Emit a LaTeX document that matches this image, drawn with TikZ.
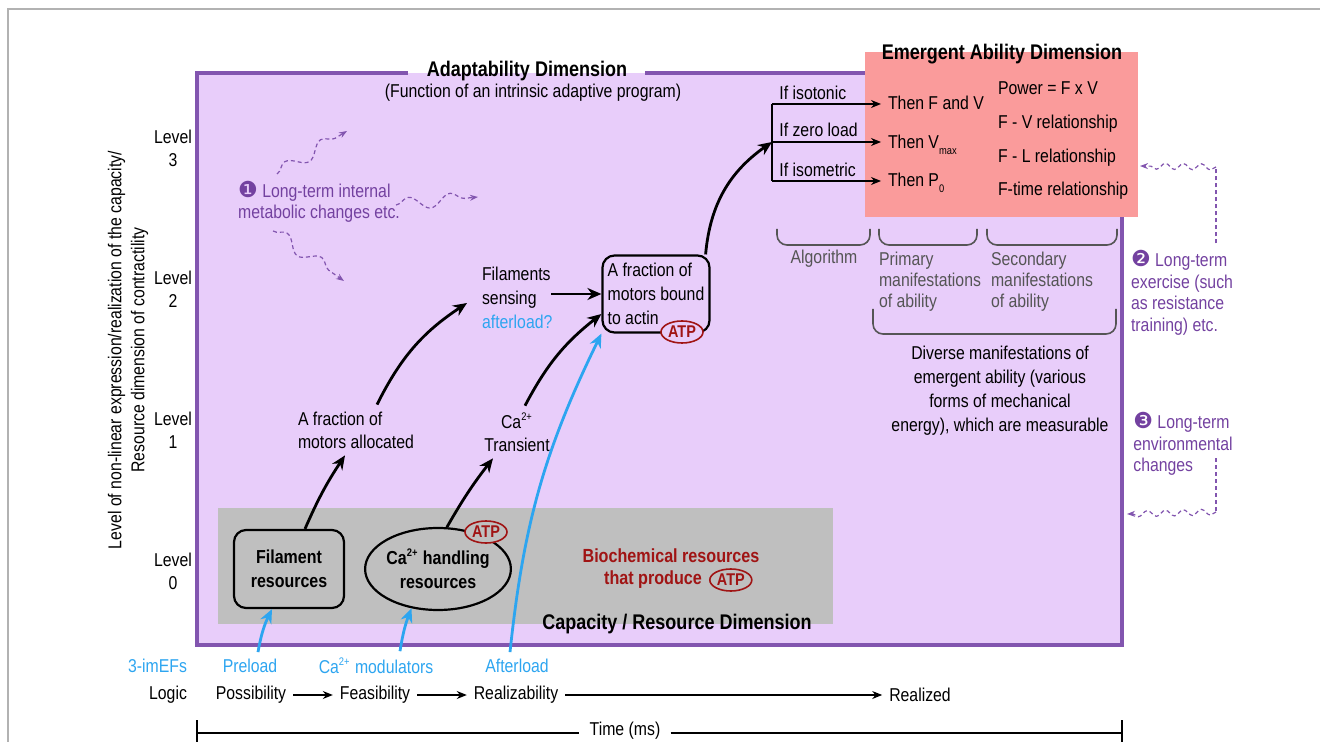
\documentclass[tikz,border=0pt]{standalone}
\usepackage{fontspec}
\setmainfont{Liberation Sans}[FakeStretch=0.85]
\newfontfamily\dingfont{DejaVu Sans}
\usepackage{tikz}
\usetikzlibrary{positioning}
\usetikzlibrary{arrows.meta}
\usetikzlibrary{shapes.geometric}
\usetikzlibrary{decorations.pathmorphing}

\definecolor{adaptfill}{RGB}{232,205,250}
\definecolor{adaptline}{RGB}{130,85,175}
\definecolor{adapttext}{RGB}{115,65,160}
\definecolor{capfill}{RGB}{191,191,191}
\definecolor{abilfill}{RGB}{250,155,155}
\definecolor{atpred}{RGB}{160,20,20}
\definecolor{loadblue}{RGB}{45,165,240}
\definecolor{bracegray}{RGB}{85,85,85}

\newcommand{\caion}{Ca\textsuperscript{\fontsize{5.5}{6}\selectfont 2+}}
\newcommand{\lowsub}[1]{\raisebox{-3pt}{\fontsize{5.5}{6}\selectfont #1}}
\newcommand{\numdot}[1]{{\dingfont\fontsize{11}{10}\selectfont #1}}

\tikzset{
  mainarrow/.style={line width=1.4pt, -{Stealth[length=7pt,width=6pt]}},
  loadarrow/.style={loadblue, line width=1.4pt, -{Stealth[length=7pt,width=6pt]}},
  thinarrow/.style={line width=0.7pt, -{Stealth[length=5pt,width=4pt]}},
  logicarrow/.style={line width=0.6pt, -{Stealth[length=5pt,width=4pt]}},
  bigwavy/.style={adaptline, line width=0.6pt, dash pattern=on 2pt off 1.5pt, decorate,
    decoration={snake, amplitude=3.2pt, segment length=21pt, post length=3pt},
    -{Stealth[length=4pt,width=3pt]}},
  smallwavy/.style={adaptline, line width=0.6pt, dash pattern=on 2pt off 1.5pt, decorate,
    decoration={snake, amplitude=1.5pt, segment length=9pt, post length=2pt},
    -{Stealth[length=4pt,width=3pt]}},
  dashlink/.style={adaptline, line width=0.6pt, dash pattern=on 2pt off 1.5pt},
  atp/.style={ellipse, draw=atpred, line width=0.8pt, text=atpred, inner sep=0pt,
    font=\fontsize{8.5}{10}\selectfont\bfseries, minimum width=21pt, minimum height=11pt},
  resbox/.style={draw, line width=1.1pt, rounded corners=6pt, fill=capfill, align=center,
    font=\fontsize{9.4}{12}\selectfont\bfseries},
  resoval/.style={ellipse, draw, line width=1.1pt, fill=capfill, align=center, inner sep=0pt,
    font=\fontsize{9.4}{12}\selectfont\bfseries},
  dimtitle/.style={font=\fontsize{10.6}{12}\selectfont\bfseries},
  biochem/.style={text=atpred, font=\fontsize{9.5}{12}\selectfont\bfseries},
  brace/.style={bracegray, line width=0.8pt, rounded corners=5pt},
  note/.style={text=adapttext, align=left, font=\fontsize{9.3}{10.8}\selectfont},
  manif/.style={text=bracegray, align=left, font=\fontsize{9.3}{10.5}\selectfont}
}

\begin{document}
\begin{tikzpicture}[x=0.5pt,y=-0.5pt,font=\fontsize{9.3}{11.5}\selectfont]
\useasboundingbox (0,0) rectangle (1320,742);
\draw[black!30, line width=0.8pt] (8,742) -- (8,9) -- (1320,9);

% adaptability dimension
\fill[adaptfill] (197,73) rectangle (1122,645);
\draw[adaptline, line width=2pt] (408,73) -- (197,73) -- (197,645) -- (1122,645) -- (1122,73) -- (645,73);
\node[dimtitle] (adapt) at (527,71) {Adaptability Dimension};
\node (adaptsub) at (533,93) {(Function of an intrinsic adaptive program)};

% capacity / resource dimension
\fill[capfill] (218,508) rectangle (833,624);
\node[dimtitle] (capacity) at (677,624) {Capacity / Resource Dimension};

% emergent ability dimension
\fill[abilfill] (865,52) rectangle (1138,217);
\node[dimtitle] (ability) at (1002,54) {Emergent Ability Dimension};

% levels
\foreach \lv/\y in {3/148,2/289,1/430,0/571}
  \node[align=center] (level\lv) at (173,\y) {Level\\\lv};
\node[rotate=90, align=center] (yaxis) at (128,350) {Level of non-linear expression/realization of the capacity/\\Resource dimension of contractility};

% resources
\node[resbox, minimum width=55pt, minimum height=39pt] (filres) at (289,569) {Filament\\resources};
\node[resoval, minimum width=65pt, minimum height=41pt] (cares) at (438,569) {\caion{} handling\\resources};
\node[atp, fill=capfill] (atpca) at (486,532) {ATP};
\node[biochem] (bio1) at (671,556) {Biochemical resources};
\node[biochem, anchor=east] (bio2) at (709,580) {that produce};
\node[atp, right=0pt of bio2] (atpbio) {ATP};

% intermediate steps
\node[align=left] (motalloc) at (356,430) {A fraction of\\motors allocated};
\node[align=center] (transient) at (517,432) {\caion\\Transient};
\node[align=left, anchor=west, font=\fontsize{9.3}{12}\selectfont] (sensing) at (475,298) {Filaments\\sensing\\\textcolor{loadblue}{afterload?}};
\node[draw, line width=1.1pt, rounded corners=6pt, align=left, inner sep=2pt,
  minimum width=53.5pt, minimum height=38.5pt, font=\fontsize{9.3}{12}\selectfont] (actin) at (656,294) {A fraction of\\motors bound\\to actin};
\node[atp, fill=adaptfill] (atpact) at (682,332) {ATP};

\draw[mainarrow] ([xshift=8pt]filres.north) to[bend left=5] ([xshift=-5.5pt]motalloc.south);
\draw[mainarrow] ([xshift=10.5pt]motalloc.north) to[bend left=15] ([shift={(-4pt,-2.5pt)}]sensing.west);
\draw[mainarrow] (cares.78) to[bend left=4] ([xshift=-12pt]transient.south);
\draw[mainarrow] ([xshift=4pt]transient.north) to[bend left=12] ([yshift=-10pt]actin.west);
\draw[mainarrow] ([xshift=-4pt]sensing.east |- actin.west) -- (actin.west);

% algorithm
\coordinate (b1) at (772,104);
\coordinate (b2) at (772,142);
\coordinate (b3) at (772,181);
\draw[mainarrow] ([xshift=-2.5pt]actin.north east) to[out=85,in=-145] (b2);
\draw[line width=0.7pt] (b1) -- (b3);
\node[anchor=base west, inner sep=0pt] (ifiso) at (779,100) {If isotonic};
\node[anchor=base west, inner sep=0pt] (ifzero) at (779,137) {If zero load};
\node[anchor=base west, inner sep=0pt] (ifisom) at (779,177) {If isometric};
\node[anchor=base west] (thenfv) at (881,110) {Then F and V};
\node[anchor=base west] (thenvmax) at (881,149) {Then V\lowsub{max}};
\node[anchor=base west] (thenpo) at (881,187) {Then P\lowsub{0}};
\draw[thinarrow] (b1) -- (b1 -| thenfv.west);
\draw[thinarrow] (b2) -- (b2 -| thenvmax.west);
\draw[thinarrow] (b3) -- (b3 -| thenpo.west);

\node[anchor=base west] (power) at (991,95) {Power = F x V};
\node[anchor=base west] (fvrel) at (991,129) {F - V relationship};
\node[anchor=base west] (flrel) at (991,163) {F - L relationship};
\node[anchor=base west] (ftrel) at (991,196) {F-time relationship};

% manifestations
\draw[brace] (777,229) -- (777,245) -- (870,245) -- (870,229);
\draw[brace] (879,229) -- (879,245) -- (977,245) -- (977,229);
\draw[brace] (987,229) -- (987,245) -- (1117,245) -- (1117,229);
\draw[brace] (873,309) -- (873,334) -- (1116,334) -- (1116,309);
\node[text=bracegray] (algo) at (824,259) {Algorithm};
\node[manif] (primary) at (930,282) {Primary\\manifestations\\of ability};
\node[manif] (secondary) at (1042,282) {Secondary\\manifestations\\of ability};
\node[align=center, font=\fontsize{9.3}{12}\selectfont] (diverse) at (1000,391) {Diverse manifestations of\\emergent ability (various\\forms of mechanical\\energy), which are measurable};

% long-term changes
\node[note] (internal) at (319,202) {\numdot{❶} Long-term internal\\metabolic changes etc.};
\coordinate (w1a) at (277,174);
\coordinate (w1b) at (347,131);
\coordinate (w1c) at (396,205);
\coordinate (w1d) at (478,197);
\coordinate (w1e) at (273,231);
\coordinate (w1f) at (344,281);
\draw[bigwavy] (w1a) -- (w1b);
\draw[bigwavy] (w1c) -- (w1d);
\draw[bigwavy] (w1e) -- (w1f);

\node[note] (exercise) at (1182,293) {\numdot{❷} Long-term\\exercise (such\\as resistance\\training) etc.};
\node[note] (environ) at (1183,444) {\numdot{❸} Long-term\\environmental\\changes};
\coordinate (w2a) at (1216,167);
\coordinate (w2b) at (1140,166);
\coordinate (w3s) at (1216,458);
\coordinate (w3a) at (1216,512);
\coordinate (w3b) at (1127,514);
\draw[dashlink] (exercise.north -| w2a) -- (w2a);
\draw[smallwavy] (w2a) -- (w2b);
\draw[dashlink] (w3s) -- (w3a);
\draw[smallwavy] (w3a) -- (w3b);

% extrinsic factors
\node[text=loadblue, anchor=east] (imefs) at (194,666) {3-imEFs};
\node[text=loadblue] (preload) at (250,666) {Preload};
\node[text=loadblue] (camod) at (376,666) {\caion{} modulators};
\node[text=loadblue] (afterload) at (517,666) {Afterload};
\draw[loadarrow] ([xshift=4pt]preload.north) to[bend left=8] ([xshift=-8.5pt]filres.south);
\draw[loadarrow] ([xshift=12pt]camod.north) to[bend left=6] (cares.236);
\draw[loadarrow] ([xshift=-3.5pt]afterload.north) to[bend left=10] (actin.south west);

% logic
\node[anchor=east] (logic) at (194,695) {Logic};
\node (possib) at (251,695) {Possibility};
\node (feas) at (375,695) {Feasibility};
\node (realiz) at (516,695) {Realizability};
\node (realized) at (920,695) {Realized};
\draw[logicarrow] (possib) -- (feas);
\draw[logicarrow] (feas) -- (realiz);
\draw[logicarrow] (realiz) -- (realized);

% time
\node[inner xsep=5pt] (time) at (625,731) {Time (ms)};
\coordinate (t0) at (197,733);
\coordinate (t1) at (1122,733);
\draw[line width=0.7pt] (t0) -- (time.west |- t0);
\draw[line width=0.7pt] (time.east |- t1) -- (t1);
\draw[line width=0.7pt] (197,720) -- (197,742);
\draw[line width=0.7pt] (1122,720) -- (1122,742);
\end{tikzpicture}
\end{document}
